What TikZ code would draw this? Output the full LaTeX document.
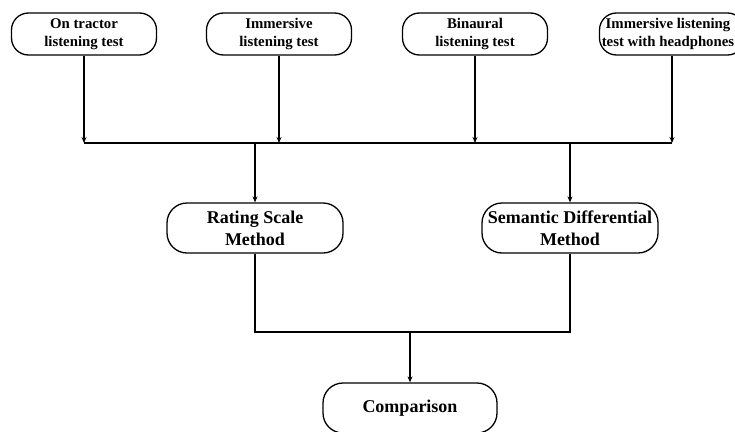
\documentclass[tikz,border=0pt]{standalone}
\usepackage{fontspec}
\setmainfont{Liberation Serif}
\usetikzlibrary{arrows.meta}
\begin{document}
\begin{tikzpicture}[x=1pt,y=-1pt,
  box/.style={draw, line width=1.3pt, rounded corners=17pt, align=center,
    inner sep=0pt, font=\bfseries\fontsize{14.8}{18.5}\selectfont},
  topbox/.style={box, minimum width=145pt, minimum height=42pt},
  midbox/.style={box, minimum width=176pt, minimum height=50pt, rounded corners=20pt,
    font=\bfseries\fontsize{18}{22}\selectfont},
  conn/.style={line width=1.3pt},
  arr/.style={conn, -{Stealth[length=6pt,width=5pt]}}]
\useasboundingbox (0,0) rectangle (735,431);
\node[topbox] (t1) at (84,34) {On tractor\\listening test};
\node[topbox] (t2) at (279,34) {Immersive\\listening test};
\node[topbox] (t3) at (475,34) {Binaural\\listening test};
\node[topbox] (t4) at (672,34) {};
\node[font=\bfseries\fontsize{14.8}{18.5}\selectfont, align=center, inner sep=0pt]
  (t4text) at (668,34) {Immersive listening\\test with headphones};
\coordinate (bus) at (0,143);
\node[midbox] (m1) at (255,228) {Rating Scale\\Method};
\node[midbox] (m2) at (570,228) {Semantic Differential\\Method};
\coordinate (low) at (0,332);
\node[midbox, minimum width=174pt] (c) at (410,408) {Comparison};
\foreach \n in {t1,t2,t3,t4} \draw[arr] (\n.south) -- (\n.south |- bus);
\draw[conn] (t1.south |- bus) -- (t4.south |- bus);
\draw[arr] (m1.north |- bus) -- (m1.north);
\draw[arr] (m2.north |- bus) -- (m2.north);
\draw[conn] (m1.south) -- (m1.south |- low) -- (m2.south |- low) -- (m2.south);
\draw[arr] (c.north |- low) -- (c.north);
\end{tikzpicture}
\end{document}
